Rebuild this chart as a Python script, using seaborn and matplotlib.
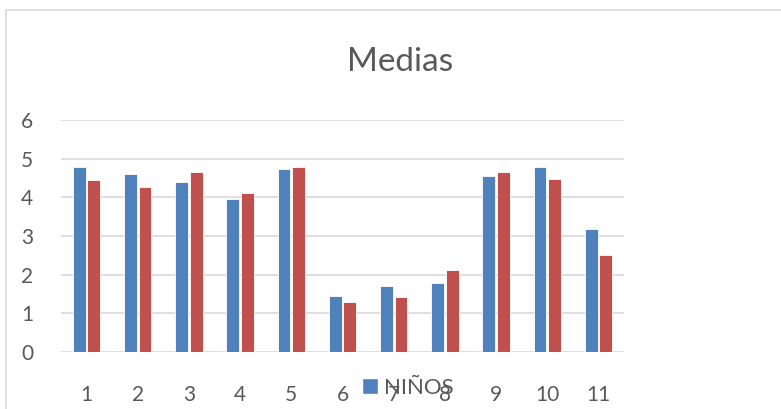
import pandas as pd
import numpy as np
import matplotlib
matplotlib.use("Agg")
import matplotlib.pyplot as plt
import seaborn as sns
from matplotlib.patches import Patch, Rectangle

categorias = ["1", "2", "3", "4", "5", "6", "7", "8", "9", "10", "11"]
ninos = [4.78, 4.61, 4.40, 3.96, 4.73, 1.44, 1.71, 1.78, 4.56, 4.78, 3.17]
ninas = [4.45, 4.28, 4.65, 4.11, 4.79, 1.29, 1.43, 2.11, 4.65, 4.47, 2.52]
series = ["NIÑOS", "NIÑAS"]
colores = ["#4F81BD", "#C0504D"]

sns.set_style("white")
plt.rcParams['font.family'] = ['Lato', 'DejaVu Sans']

df = pd.DataFrame({
    "pregunta": categorias * 2,
    "media": ninos + ninas,
    "grupo": [series[0]] * len(ninos) + [series[1]] * len(ninas),
})

fig = plt.figure(figsize=(7.81, 4.09), dpi=100)
ax = fig.add_axes([61 / 781, 1 - 352 / 409, (624 - 61) / 781, (352 - 120) / 409])

sns.barplot(data=df, x="pregunta", y="media", hue="grupo", order=categorias,
            hue_order=series, palette=colores, saturation=1, width=0.57, gap=0.12,
            edgecolor="white", linewidth=0.6, legend=False, ax=ax)

ax.set_ylim(0, 6)
ax.set_yticks(range(0, 7))
ax.set_xlim(-0.5, len(categorias) - 0.5)
ax.set_xlabel("")
ax.set_ylabel("")
ax.yaxis.grid(True, color="#D9D9D9", linewidth=1.2)
ax.set_axisbelow(True)
for s in ax.spines.values():
    s.set_visible(False)
ax.tick_params(axis="both", length=0, labelsize=15, labelcolor="#595959")
ax.tick_params(axis="y", pad=20)
ax.tick_params(axis="x", pad=24)

fig.text(400 / 781, 1 - 62 / 409, "Medias", ha="center", va="center",
         fontsize=24, color="#595959")

# borde del área del gráfico
fig.patches.append(Rectangle((6 / 781, -0.1), 1.2, 1 - 10 / 409 + 0.1,
                             transform=fig.transFigure, fill=False,
                             edgecolor="#D9D9D9", linewidth=1.2))

fig.legend(handles=[Patch(facecolor=colores[0], label=series[0])],
           loc="center", bbox_to_anchor=(408 / 781, 1 - 388 / 409),
           frameon=False, fontsize=16, labelcolor="#595959",
           handlelength=0.7, handleheight=0.7, handletextpad=0.3)

fig.savefig("out.png", dpi=100)
